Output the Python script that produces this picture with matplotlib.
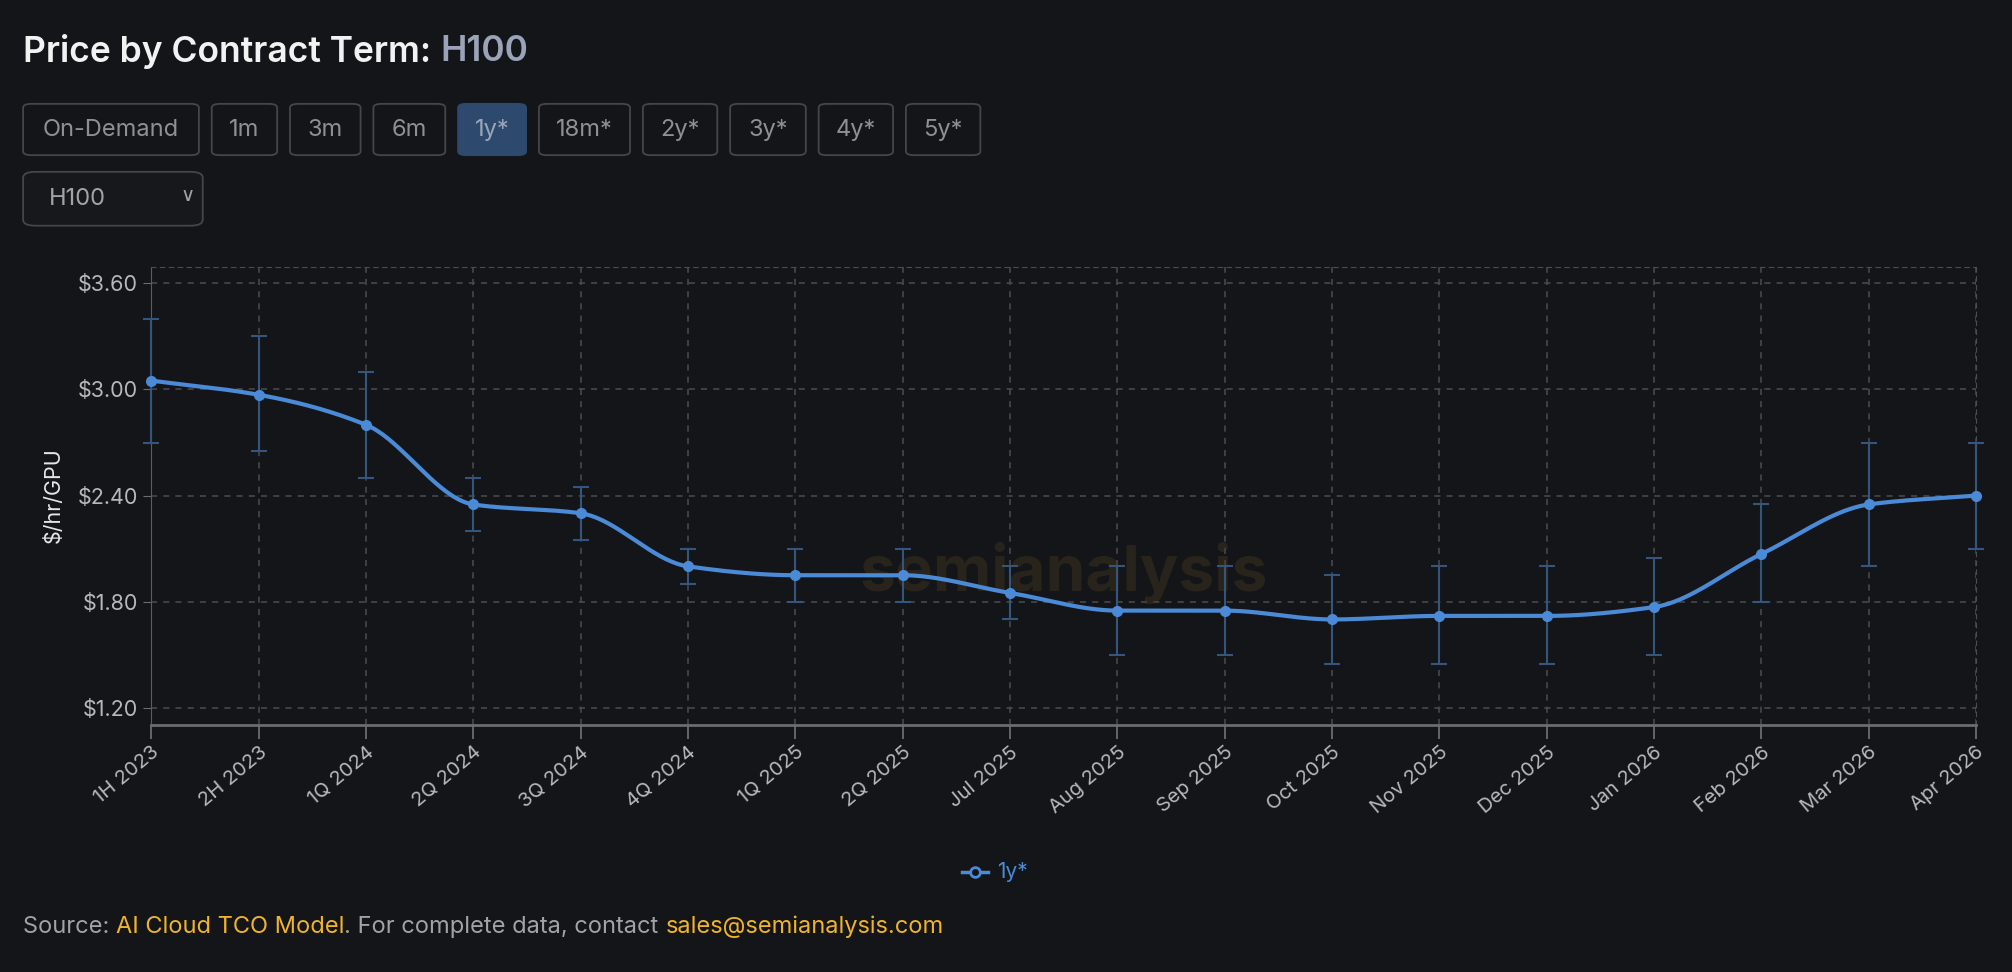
import numpy as np
import matplotlib
matplotlib.use("Agg")
import matplotlib.pyplot as plt
from matplotlib.patches import FancyBboxPatch
from matplotlib.lines import Line2D

categories = ["1H 2023", "2H 2023", "1Q 2024", "2Q 2024", "3Q 2024", "4Q 2024", "1Q 2025",
              "2Q 2025", "Jul 2025", "Aug 2025", "Sep 2025", "Oct 2025", "Nov 2025", "Dec 2025",
              "Jan 2026", "Feb 2026", "Mar 2026", "Apr 2026"]
price = [3.05, 2.97, 2.80, 2.35, 2.30, 2.00, 1.95, 1.95, 1.85, 1.75, 1.75, 1.70, 1.72, 1.72,
         1.77, 2.07, 2.35, 2.40]
err_high = [3.40, 3.30, 3.10, 2.50, 2.45, 2.10, 2.10, 2.10, 2.00, 2.00, 2.00, 1.95, 2.00, 2.00,
            2.05, 2.35, 2.70, 2.70]
err_low = [2.70, 2.65, 2.50, 2.20, 2.15, 1.90, 1.80, 1.80, 1.70, 1.50, 1.50, 1.45, 1.45, 1.45,
           1.50, 1.80, 2.00, 2.10]
yticks = [1.20, 1.80, 2.40, 3.00, 3.60]
buttons = ["On-Demand", "1m", "3m", "6m", "1y*", "18m*", "2y*", "3y*", "4y*", "5y*"]

plt.rcParams['font.family'] = ['Inter', 'DejaVu Sans']
BG = '#131518'
W, H = 1568.0, 758.0

fig = plt.figure(figsize=(20.12, 9.72), dpi=100, facecolor=BG)

def fx(x): return x / W
def fy(y): return 1 - y / H

# title
t0 = fig.text(fx(18), fy(40), "Price by Contract Term: ", color='#f2f2f2', fontsize=25.5,
              fontweight='semibold', va='center', ha='left')
fig.canvas.draw()
r = fig.canvas.get_renderer()
bb = t0.get_window_extent(r)
fig.text(bb.x1 / fig.bbox.width, fy(40), "H100", color='#9aa3b8', fontsize=25.5,
         fontweight='semibold', va='center', ha='left')

# buttons
bx = [(18, 155), (165, 216), (226, 281), (291, 347), (357, 410), (420, 491), (501, 559),
      (569, 628), (638, 696), (706, 764)]
for (x0, x1), lab in zip(bx, buttons):
    active = lab == "1y*"
    p = FancyBboxPatch((fx(x0), fy(121)), fx(x1 - x0), (121 - 81) / H,
                       boxstyle="round,pad=0,rounding_size=0.004",
                       transform=fig.transFigure, facecolor='#2d4a6e' if active else BG,
                       edgecolor='#2d4a6e' if active else '#44464b', linewidth=1.3)
    fig.add_artist(p)
    fig.text(fx((x0 + x1) / 2), fy(101), lab, color='#8d9196' if not active else '#9aa6b8',
             fontsize=17, ha='center', va='center')
p = FancyBboxPatch((fx(18), fy(176)), fx(140), 42 / H, boxstyle="round,pad=0,rounding_size=0.006",
                   transform=fig.transFigure, facecolor='#16181b', edgecolor='#44464b', linewidth=1.3)
fig.add_artist(p)
fig.text(fx(38), fy(155), "H100", color='#a0a4a9', fontsize=17, ha='left', va='center')
fig.text(fx(146), fy(153), "\u2228", color='#a0a4a9', fontsize=14, ha='center', va='center')

# axes
ax = fig.add_axes([fx(118), fy(565), fx(1540 - 118), (565 - 208) / H])
ax.set_facecolor(BG)
x = np.arange(len(categories))
y = np.array(price)

# monotone cubic interpolation (Fritsch-Carlson)
def monotone(xs, ys, n=40):
    h = np.diff(xs); d = np.diff(ys) / h
    m = np.zeros_like(ys)
    m[0], m[-1] = d[0], d[-1]
    for i in range(1, len(xs) - 1):
        if d[i - 1] * d[i] <= 0:
            m[i] = 0
        else:
            w1 = 2 * h[i] + h[i - 1]; w2 = h[i] + 2 * h[i - 1]
            m[i] = (w1 + w2) / (w1 / d[i - 1] + w2 / d[i])
    X, Y = [], []
    for i in range(len(xs) - 1):
        t = np.linspace(0, 1, n)
        h00 = 2*t**3 - 3*t**2 + 1; h10 = t**3 - 2*t**2 + t
        h01 = -2*t**3 + 3*t**2; h11 = t**3 - t**2
        X.append(xs[i] + t * h[i])
        Y.append(h00*ys[i] + h10*h[i]*m[i] + h01*ys[i+1] + h11*h[i]*m[i+1])
    return np.concatenate(X), np.concatenate(Y)

ax.set_xlim(0, len(categories) - 1)
ax.set_ylim(1.106, 3.694)
ax.set_yticks(yticks)
ax.set_yticklabels([f"${v:.2f}" for v in yticks])
ax.set_xticks(x)
ax.set_xticklabels(categories, rotation=40, ha='right', rotation_mode='anchor')
ax.grid(True, color='#4a4c50', linestyle=(0, (4, 4)), linewidth=1.1)
ax.set_axisbelow(True)
for s in ['top', 'right']:
    ax.spines[s].set_color('#4a4c50'); ax.spines[s].set_linestyle((0, (4, 4)))
ax.spines['left'].set_color('#5a5c60')
ax.spines['bottom'].set_color('#6a6c70'); ax.spines['bottom'].set_linewidth(2)
ax.tick_params(axis='x', colors='#6a6c70', labelcolor='#b5b8bc', labelsize=14.5, length=10, width=1.3)
ax.tick_params(axis='y', colors='#6a6c70', labelcolor='#b5b8bc', labelsize=15.5, length=6)
ax.set_ylabel("$/hr/GPU", color='#e6e6e6', fontsize=15.5, labelpad=10)

# watermark
ax.text(0.5, 0.33, "semianalysis", transform=ax.transAxes, fontsize=46, fontweight='bold',
        color='#4a3a22', alpha=0.4, ha='center', va='center', zorder=1)

yerr = [y - np.array(err_low), np.array(err_high) - y]
ax.errorbar(x, y, yerr=yerr, fmt='none', ecolor='#34557c', elinewidth=1.5, capsize=6,
            capthick=1.5, zorder=3, clip_on=False)
sx, sy = monotone(x.astype(float), y)
ax.plot(sx, sy, color='#4a8ad6', linewidth=3, zorder=4, clip_on=False)
ax.plot(x, y, 'o', color='#4a8ad6', markersize=7, zorder=5, clip_on=False)

# legend
fig.add_artist(Line2D([fx(750), fx(770)], [fy(680), fy(680)], color='#4a8ad6', linewidth=2.5,
                      transform=fig.transFigure))
fig.add_artist(Line2D([fx(760)], [fy(680)], marker='o', markersize=7, markerfacecolor=BG,
                      markeredgecolor='#4a8ad6', markeredgewidth=2, transform=fig.transFigure))
fig.text(fx(777), fy(680), "1y*", color='#4a8ad6', fontsize=15, ha='left', va='center')

# source line
parts = [("Source: ", '#a0a4a9'), ("AI Cloud TCO Model", '#f0b429'),
         (". For complete data, contact ", '#a0a4a9'), ("sales@semianalysis.com", '#f0b429')]
xpos = fx(18)
for txt, col in parts:
    t = fig.text(xpos, fy(723), txt, color=col, fontsize=17, ha='left', va='center')
    fig.canvas.draw()
    xpos = t.get_window_extent(fig.canvas.get_renderer()).x1 / fig.bbox.width

fig.savefig("out.png", dpi=100, facecolor=BG)
